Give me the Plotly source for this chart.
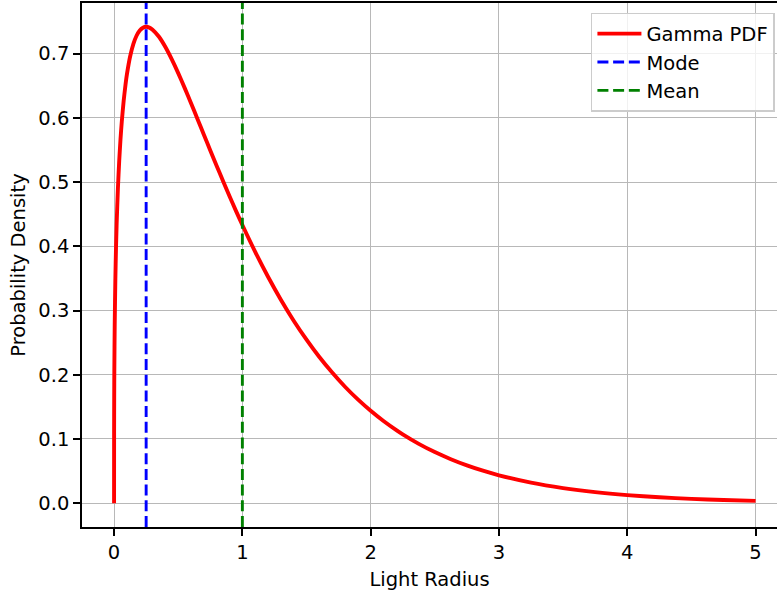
import plotly.graph_objects as go

# Gamma PDF sampled along the light radius axis
light_radius = [0.0, 0.0003, 0.001, 0.002, 0.005, 0.01, 0.015, 0.02, 0.03, 0.04, 0.05, 0.06,
                0.075, 0.09, 0.1, 0.125, 0.15, 0.175, 0.2, 0.225, 0.25, 0.275, 0.3, 0.35,
                0.4, 0.45, 0.5, 0.55, 0.6, 0.65, 0.7, 0.75, 0.8, 0.85, 0.9, 0.95, 1.0,
                1.1, 1.2, 1.3, 1.4, 1.5, 1.6, 1.7, 1.8, 1.9, 2.0, 2.1, 2.2, 2.25, 2.375,
                2.5, 2.625, 2.75, 2.875, 3.0, 3.25, 3.5, 3.75, 4.0, 4.25, 4.5, 4.75, 5.0]
density = [0.0, 0.110, 0.164, 0.2065, 0.279, 0.3493, 0.3973, 0.4343, 0.4906, 0.5329, 0.5664, 0.5939,
           0.6271, 0.6531, 0.6677, 0.6956, 0.7149, 0.7279, 0.7361, 0.7405, 0.7418, 0.7406, 0.7374, 0.7263,
           0.7103, 0.6911, 0.6697, 0.6467, 0.6228, 0.5984, 0.5737, 0.5493, 0.5251, 0.5013, 0.4779, 0.4552, 0.4332,
           0.3914, 0.3526, 0.3169, 0.2842, 0.2546, 0.2276, 0.2034, 0.1813, 0.1616, 0.1439, 0.1280, 0.1138, 0.1072, 0.09238,
           0.07956, 0.06846, 0.05885, 0.05053, 0.04342, 0.03194, 0.02347, 0.01720, 0.01260, 0.009205, 0.006726, 0.004920, 0.003577]

mode_x = 0.25
mean_x = 1.0

x_range = [-0.25, 5.167]
y_range = [-0.0371, 0.7789]

FONT = "DejaVu Sans"
FS = 19.5

fig = go.Figure()

fig.add_trace(go.Scatter(
    x=light_radius, y=density, mode="lines", name="Gamma PDF",
    line=dict(color="red", width=3.9, shape="spline", smoothing=0.6), legendgroup="g1",
))
fig.add_trace(go.Scatter(
    x=[mode_x, mode_x], y=y_range, mode="lines", name="Mode",
    line=dict(color="blue", width=2.9, dash="11px,4.7px"), legendgroup="g2",
))
fig.add_trace(go.Scatter(
    x=[mean_x, mean_x], y=y_range, mode="lines", name="Mean",
    line=dict(color="green", width=2.9, dash="11px,4.7px"), legendgroup="g3",
))

axis_common = dict(
    showgrid=True, gridcolor="#b8b8b8", gridwidth=1.2,
    zeroline=False, showline=True, linecolor="black", linewidth=1.6,
    ticks="outside", ticklen=7, tickwidth=1.6, tickcolor="black",
    tickfont=dict(family=FONT, size=FS, color="black"),
)

fig.update_xaxes(
    range=x_range, tickvals=[0, 1, 2, 3, 4, 5], mirror=True,
    title=dict(text="Light Radius", font=dict(family=FONT, size=FS, color="black"), standoff=10),
    **axis_common,
)
fig.update_yaxes(
    range=y_range, tickvals=[0.0, 0.1, 0.2, 0.3, 0.4, 0.5, 0.6, 0.7],
    ticktext=["0.0", "0.1", "0.2", "0.3", "0.4", "0.5", "0.6", "0.7"],
    title=dict(text="Probability Density", font=dict(family=FONT, size=FS, color="black"), standoff=7),
    **axis_common,
)

fig.update_layout(
    width=777, height=591,
    margin=dict(l=82, r=0, t=3, b=64),
    paper_bgcolor="white", plot_bgcolor="white",
    font=dict(family=FONT, size=FS, color="black"),
    showlegend=True,
    legend=dict(
        x=0.997, xanchor="right", y=0.981, yanchor="top",
        bgcolor="rgba(255,255,255,0.8)", bordercolor="#cccccc", borderwidth=1.5,
        font=dict(family=FONT, size=FS, color="black"),
        itemwidth=44, tracegroupgap=0,
    ),
)

fig.write_html("out.html")
